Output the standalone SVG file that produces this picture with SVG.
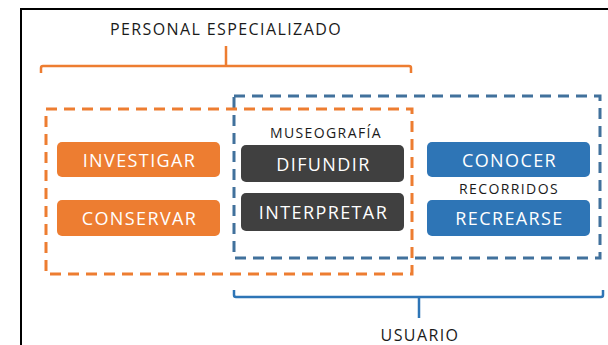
<svg xmlns="http://www.w3.org/2000/svg" width="608" height="345" viewBox="0 0 608 345">
<style>
.lbl{font-family:"Open Sans","Noto Sans","DejaVu Sans",sans-serif;font-size:18px;letter-spacing:1.4px;fill:#ffffff;text-anchor:middle;dominant-baseline:central}
.cap{font-family:"Open Sans","Noto Sans","DejaVu Sans",sans-serif;letter-spacing:1.4px;fill:#1a1a1a;text-anchor:middle;dominant-baseline:central}
.or{fill:#ED7D31}
.dk{fill:#404040}
.bl{fill:#2E75B6}
</style>
<rect x="0" y="0" width="608" height="345" fill="#ffffff"/>
<rect x="21" y="9" width="600" height="350" fill="none" stroke="#000" stroke-width="2"/>
<g id="connectors">
<rect x="234" y="96" width="366" height="162" fill="none" stroke="#41719C" stroke-width="3" stroke-dasharray="11,7"/>
<rect x="46" y="109" width="366" height="165" fill="none" stroke="#ED7D31" stroke-width="3" stroke-dasharray="11,7"/>
<path d="M41,73 V68 Q41,66 43,66 H409 Q411,66 411,68 V73 M226,66 V46" fill="none" stroke="#ED7D31" stroke-width="2.5"/>
<path d="M234,290 V295 Q234,297 236,297 H601 Q603,297 603,295 V290 M419,297 V318" fill="none" stroke="#2E75B6" stroke-width="2.5"/>
</g>
<g id="personal"><text class="cap" x="226" y="29" font-size="16">PERSONAL ESPECIALIZADO</text></g>
<g id="usuario"><text class="cap" x="420" y="335" font-size="16">USUARIO</text></g>
<g id="museografia"><text class="cap" x="326" y="132" font-size="14">MUSEOGRAFÍA</text></g>
<g id="recorridos"><text class="cap" x="509" y="188" font-size="14">RECORRIDOS</text></g>
<g id="investigar"><rect class="or" x="57" y="142" width="163" height="35" rx="5"/><text class="lbl" x="139.5" y="159.5">INVESTIGAR</text></g>
<g id="conservar"><rect class="or" x="57" y="200" width="163" height="36" rx="5"/><text class="lbl" x="139.5" y="218">CONSERVAR</text></g>
<g id="difundir"><rect class="dk" x="241" y="145" width="163" height="37" rx="5"/><text class="lbl" x="323.5" y="163.5">DIFUNDIR</text></g>
<g id="interpretar"><rect class="dk" x="241" y="193" width="163" height="38" rx="5"/><text class="lbl" x="323.5" y="212">INTERPRETAR</text></g>
<g id="conocer"><rect class="bl" x="427" y="142" width="163" height="35" rx="5"/><text class="lbl" x="509.5" y="159.5">CONOCER</text></g>
<g id="recrearse"><rect class="bl" x="427" y="200" width="163" height="36" rx="5"/><text class="lbl" x="509.5" y="218">RECREARSE</text></g>
</svg>
